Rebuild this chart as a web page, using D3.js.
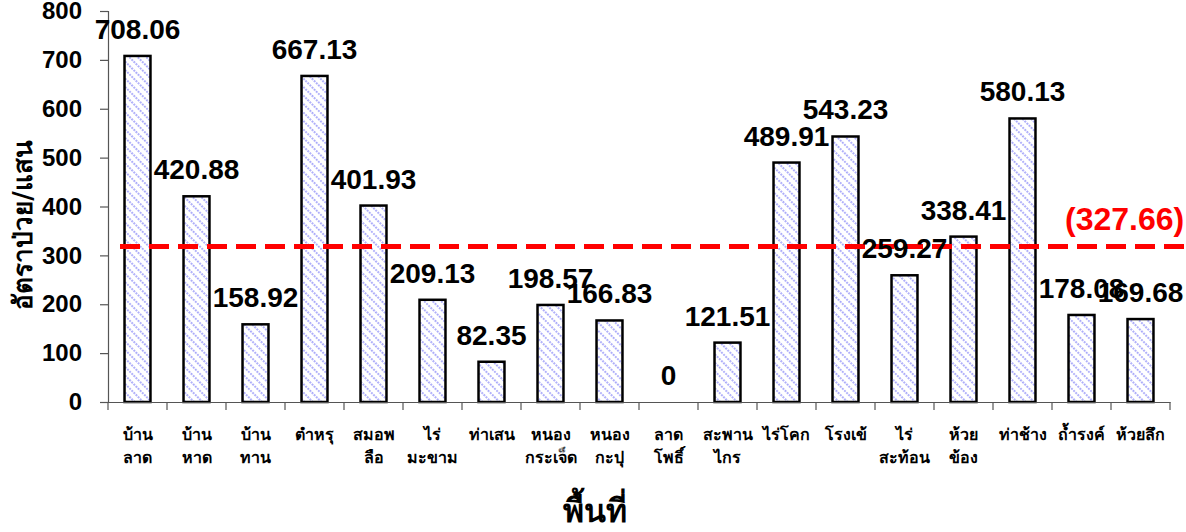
<!DOCTYPE html>
<html><head><meta charset="utf-8">
<script src="https://cdn.jsdelivr.net/npm/d3@7"></script>
<style>
html,body{margin:0;padding:0;background:#fff;overflow:hidden}
svg{display:block}
</style></head>
<body>
<svg id="chart" width="1186" height="532"></svg>
<script>
const categories = [
  ["บ้าน","ลาด"],["บ้าน","หาด"],["บ้าน","ทาน"],["ตำหรุ"],["สมอพ","ลือ"],["ไร่","มะขาม"],
  ["ท่าเสน"],["หนอง","กระเจ็ด"],["หนอง","กะปุ"],["ลาด","โพธิ์"],["สะพาน","ไกร"],["ไร่โคก"],
  ["โรงเข้"],["ไร่","สะท้อน"],["ห้วย","ข้อง"],["ท่าช้าง"],["ถ้ำรงค์"],["ห้วยลึก"]
];
const values = [708.06,420.88,158.92,667.13,401.93,209.13,82.35,198.57,166.83,0,121.51,489.91,543.23,259.27,338.41,580.13,178.08,169.68];
const valueLabels = ["708.06","420.88","158.92","667.13","401.93","209.13","82.35","198.57","166.83","0","121.51","489.91","543.23","259.27","338.41","580.13","178.08","169.68"];
const yTicks = [0,100,200,300,400,500,600,700,800];
const refLineValue = 318;
const refLineLabel = "(327.66)";
const yTitle = "อัตราป่วย/แสน";
const xTitle = "พื้นที่";

const svg = d3.select("#chart");
const thaiFont = "Tahoma, 'DejaVu Sans', 'Noto Sans', sans-serif";
const numFont = "'Liberation Sans', Arial, sans-serif";

const x = d3.scaleBand().domain(d3.range(categories.length)).range([108,1170]).paddingInner(0.56).paddingOuter(0.28);
const xb = d3.scaleBand().domain(d3.range(categories.length)).range([108,1170]);
const y = d3.scaleLinear().domain([0,800]).range([402,11]);

const defs = svg.append("defs");
const pat = defs.append("pattern").attr("id","hatch").attr("patternUnits","userSpaceOnUse")
  .attr("width",6).attr("height",6).attr("patternTransform","rotate(45)");
pat.append("rect").attr("width",6).attr("height",6).attr("fill","#fff");
pat.append("line").attr("x1",0).attr("y1",3).attr("x2",6).attr("y2",3)
  .attr("stroke","#8c8cf8").attr("stroke-width",1.7).attr("stroke-dasharray","1.8,1.2");

// bars
svg.append("g").selectAll("rect").data(values).join("rect")
  .attr("x",(d,i)=>x(i)).attr("width",x.bandwidth())
  .attr("y",d=>y(d)).attr("height",d=>y(0)-y(d))
  .attr("fill","url(#hatch)").attr("stroke","#000").attr("stroke-width",2.5)
  .attr("display",d=>d>0?null:"none");

// axes
const yAxis = svg.append("g").attr("transform","translate(108,0)")
  .call(d3.axisLeft(y).tickValues(yTicks).tickSize(8).tickPadding(18));
yAxis.select(".domain").attr("stroke","#555").attr("stroke-width",1.2);
yAxis.selectAll(".tick line").attr("stroke","#555").attr("stroke-width",1.2);
yAxis.selectAll(".tick text").attr("font-family",numFont).attr("font-weight","bold")
  .attr("font-size",24).attr("fill","#000");

const xAxis = svg.append("g").attr("transform","translate(0,402)")
  .call(d3.axisBottom(xb).tickSize(0).tickFormat(""));
xAxis.select(".domain").attr("stroke","#555").attr("stroke-width",1.2);
svg.append("g").selectAll("line").data(d3.range(categories.length+1)).join("line")
  .attr("x1",i=>i<categories.length?xb(i):xb(categories.length-1)+xb.bandwidth())
  .attr("x2",i=>i<categories.length?xb(i):xb(categories.length-1)+xb.bandwidth())
  .attr("y1",402).attr("y2",410).attr("stroke","#555").attr("stroke-width",1.2);

// category labels
const cl = svg.append("g").selectAll("text").data(categories).join("text")
  .attr("font-family",thaiFont).attr("font-weight","bold").attr("font-size",16)
  .attr("text-anchor","middle").attr("fill","#000");
cl.each(function(d,i){
  const t = d3.select(this);
  d.forEach((line,j)=>{
    t.append("tspan").attr("x",xb(i)+xb.bandwidth()/2).attr("y",440+j*23).text(line);
  });
});

// reference line
svg.append("line").attr("x1",120).attr("x2",1186).attr("y1",y(refLineValue)).attr("y2",y(refLineValue))
  .attr("stroke","#ff0000").attr("stroke-width",5).attr("stroke-dasharray","20,9");

// value labels
svg.append("g").selectAll("text").data(values).join("text")
  .attr("x",(d,i)=>xb(i)+xb.bandwidth()/2).attr("y",d=>y(d)-17)
  .attr("text-anchor","middle").attr("font-family",numFont).attr("font-weight","bold")
  .attr("font-size",28).attr("fill","#000").text((d,i)=>valueLabels[i]);

svg.append("text").attr("x",1065).attr("y",230).attr("font-family",numFont)
  .attr("font-weight","bold").attr("font-size",32).attr("fill","#ff0000").text(refLineLabel);

// titles
svg.append("text").attr("transform","translate(32,225) rotate(-90)").attr("text-anchor","middle")
  .attr("font-family",thaiFont).attr("font-weight","bold").attr("font-size",26).text(yTitle);
svg.append("text").attr("x",595).attr("y",522).attr("text-anchor","middle")
  .attr("font-family",thaiFont).attr("font-weight","bold").attr("font-size",32).text(xTitle);
</script>
</body></html>
